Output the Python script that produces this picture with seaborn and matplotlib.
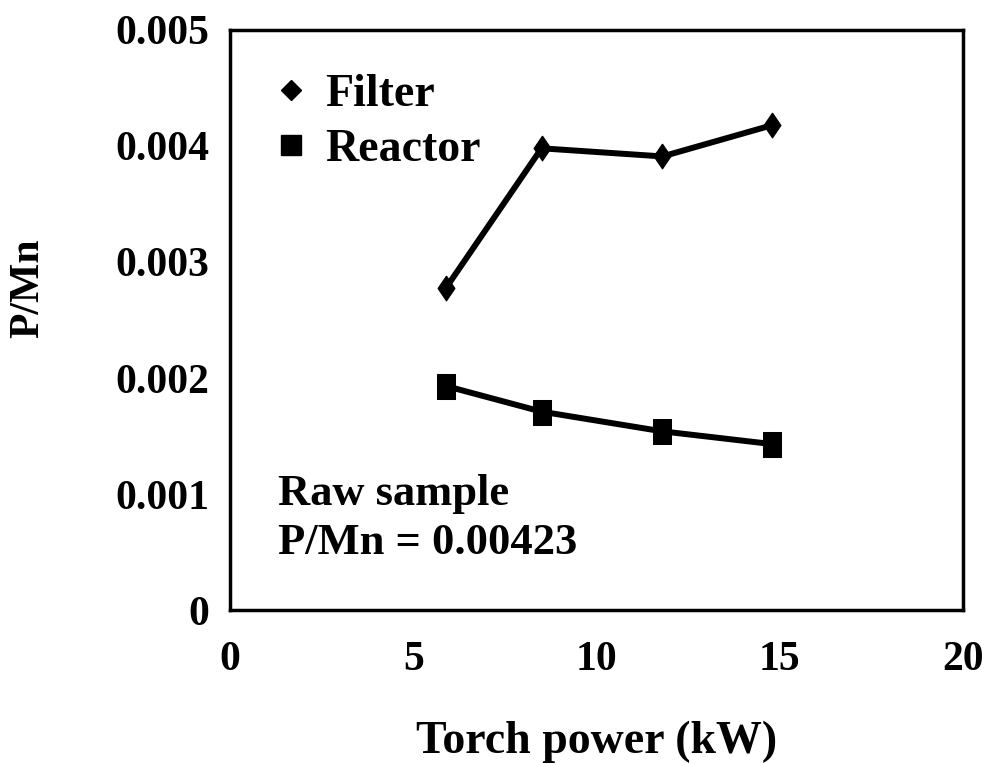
import matplotlib
matplotlib.use("Agg")
import matplotlib.pyplot as plt
import seaborn as sns
import pandas as pd
from matplotlib.lines import Line2D

# Data
power_kw = [5.9, 8.5, 11.8, 14.8]
filter_pmn = [0.00278, 0.00398, 0.00391, 0.00418]
reactor_pmn = [0.00193, 0.00171, 0.00154, 0.00143]
series_names = ["Filter", "Reactor"]
x_ticks = [0, 5, 10, 15, 20]
y_ticks = [0, 0.001, 0.002, 0.003, 0.004, 0.005]
y_tick_labels = ["0", "0.001", "0.002", "0.003", "0.004", "0.005"]
note_text = "Raw sample\nP/Mn = 0.00423"

df = pd.DataFrame({
    "power": power_kw * 2,
    "pmn": filter_pmn + reactor_pmn,
    "series": [series_names[0]] * len(power_kw) + [series_names[1]] * len(power_kw),
})

sns.set_theme(style="white")
plt.rcParams["font.family"] = ["Liberation Serif", "DejaVu Serif"]
plt.rcParams["font.weight"] = "bold"
plt.rcParams["text.color"] = "black"
plt.rcParams["axes.labelcolor"] = "black"
plt.rcParams["xtick.labelcolor"] = "black"
plt.rcParams["ytick.labelcolor"] = "black"

# tall diamond and tall square markers (as in the reference)
diamond = [(0, 1), (0.68, 0), (0, -1), (-0.68, 0), (0, 1)]
tall_sq = [(-0.72, -1), (0.72, -1), (0.72, 1), (-0.72, 1), (-0.72, -1)]

fig = plt.figure(figsize=(9.89, 7.63), dpi=100)
ax = fig.add_axes([0.2326, 0.2005, 0.7411, 0.7602])

sns.lineplot(data=df, x="power", y="pmn", hue="series", style="series",
             palette={"Filter": "black", "Reactor": "black"},
             markers={"Filter": diamond, "Reactor": tall_sq}, dashes=False,
             linewidth=4.3, markersize=18, markeredgecolor="black",
             ax=ax, legend=False)

ax.set_xlim(0, 20)
ax.set_ylim(0, 0.005)
ax.set_xticks(x_ticks)
ax.set_xticklabels([str(v) for v in x_ticks])
ax.set_yticks(y_ticks)
ax.set_yticklabels(y_tick_labels)
ax.tick_params(axis="both", direction="in", length=8, width=1, color="#888888",
               labelsize=30, pad=15)
ax.tick_params(axis="x", pad=22)
for lab in ax.get_xticklabels() + ax.get_yticklabels():
    lab.set_fontweight("bold")
for s in ax.spines.values():
    s.set_color("black")
    s.set_linewidth(2.5)
ax.set_xlabel("Torch power (kW)", fontsize=33, fontweight="bold", labelpad=30)
ax.set_ylabel("P/Mn", fontsize=30, fontweight="bold")
ax.yaxis.set_label_coords(-0.25, 0.555)

handles = [Line2D([], [], color="black", marker="D", linestyle="none", markersize=10),
           Line2D([], [], color="black", marker="s", linestyle="none", markersize=14.5)]
leg = ax.legend(handles, series_names, loc="upper left", bbox_to_anchor=(-0.005, 0.995),
                frameon=False, prop={"size": 33, "weight": "bold"},
                handletextpad=0.25, labelspacing=0.28, handlelength=1.0)

ax.text(0.065, 0.235, note_text, transform=ax.transAxes, fontsize=32,
        fontweight="bold", va="top", ha="left", linespacing=1.3)

fig.savefig("out.png", dpi=100)
